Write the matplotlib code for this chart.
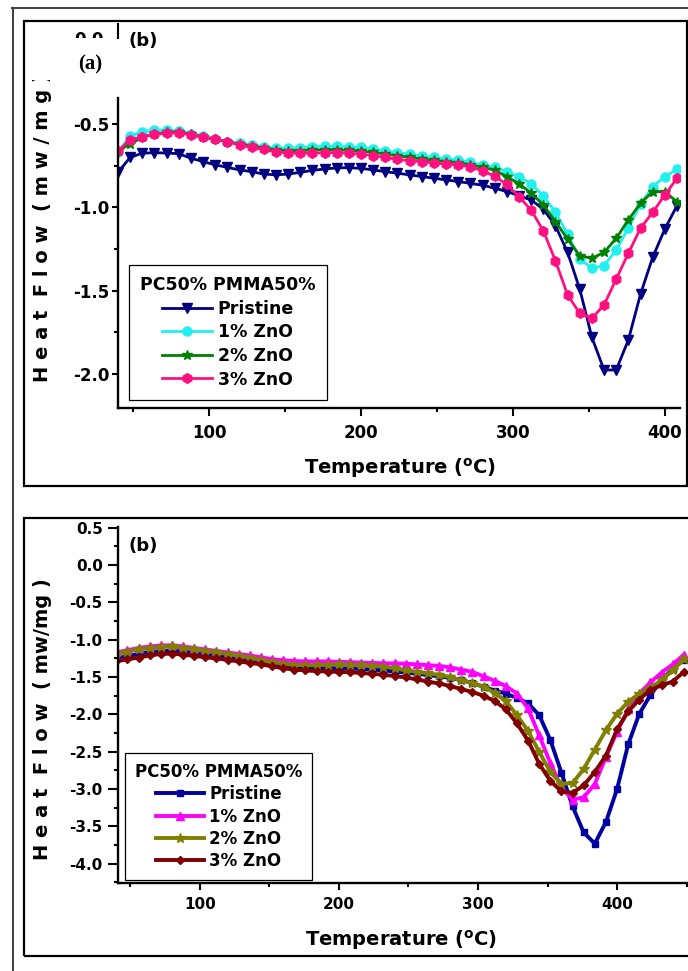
import matplotlib as mpl
import matplotlib.pyplot as plt
from matplotlib.patches import Rectangle
from matplotlib.lines import Line2D
from matplotlib.ticker import MultipleLocator
from matplotlib.transforms import Bbox, TransformedBbox

mpl.rcParams["font.family"] = "DejaVu Sans"
mpl.rcParams["font.weight"] = "bold"
mpl.rcParams["mathtext.default"] = "regular"
mpl.rcParams["axes.unicode_minus"] = False

W, H = 688, 971

# ---- panel (a) data: DSC curves, PC50/PMMA50 ----
temp_a = [40, 48, 56, 64, 72, 80, 88, 96, 104, 112, 120, 128, 136, 144, 152, 160,
          168, 176, 184, 192, 200, 208, 216, 224, 232, 240, 248, 256, 264, 272, 280,
          288, 296, 304, 312, 320, 328, 336, 344, 352, 360, 368, 376, 384, 392, 400, 408]
pristine_a = [-0.79, -0.70, -0.675, -0.672, -0.674, -0.678, -0.705, -0.725, -0.745, -0.76,
              -0.775, -0.786, -0.80, -0.805, -0.80, -0.79, -0.778, -0.77, -0.763, -0.762,
              -0.766, -0.775, -0.786, -0.795, -0.805, -0.815, -0.825, -0.835, -0.845, -0.856,
              -0.867, -0.885, -0.905, -0.93, -0.956, -1.01, -1.11, -1.27, -1.49, -1.78,
              -1.975, -1.975, -1.795, -1.52, -1.30, -1.13, -0.99]
zno1_a = [-0.67, -0.57, -0.548, -0.535, -0.537, -0.542, -0.558, -0.572, -0.59, -0.606,
          -0.616, -0.626, -0.636, -0.645, -0.645, -0.642, -0.636, -0.634, -0.634, -0.637,
          -0.64, -0.65, -0.66, -0.672, -0.68, -0.692, -0.70, -0.71, -0.715, -0.73,
          -0.746, -0.76, -0.786, -0.816, -0.858, -0.93, -1.03, -1.16, -1.31, -1.365,
          -1.35, -1.255, -1.125, -0.98, -0.875, -0.816, -0.772]
zno2_a = [-0.66, -0.62, -0.58, -0.56, -0.55, -0.548, -0.562, -0.576, -0.592, -0.606,
          -0.62, -0.632, -0.644, -0.655, -0.66, -0.66, -0.656, -0.654, -0.655, -0.658,
          -0.662, -0.67, -0.68, -0.69, -0.70, -0.71, -0.718, -0.725, -0.732, -0.745,
          -0.76, -0.776, -0.816, -0.858, -0.914, -0.985, -1.085, -1.19, -1.29, -1.305,
          -1.27, -1.185, -1.075, -0.975, -0.906, -0.906, -0.966]
zno3_a = [-0.66, -0.596, -0.576, -0.562, -0.556, -0.552, -0.566, -0.58, -0.592, -0.606,
          -0.626, -0.64, -0.652, -0.668, -0.674, -0.676, -0.675, -0.672, -0.672, -0.676,
          -0.68, -0.69, -0.70, -0.712, -0.72, -0.726, -0.734, -0.74, -0.746, -0.756,
          -0.78, -0.814, -0.862, -0.936, -1.016, -1.14, -1.32, -1.525, -1.635, -1.665,
          -1.585, -1.43, -1.275, -1.125, -1.03, -0.926, -0.826]

# ---- panel (b) data ----
temp_b = [40, 48, 56, 64, 72, 80, 88, 96, 104, 112, 120, 128, 136, 144, 152, 160,
          168, 176, 184, 192, 200, 208, 216, 224, 232, 240, 248, 256, 264, 272, 280,
          288, 296, 304, 312, 320, 328, 336, 344, 352, 360, 368, 376, 384, 392, 400,
          408, 416, 424, 432, 440, 448]
pristine_b = [-1.25, -1.22, -1.19, -1.165, -1.15, -1.145, -1.155, -1.17, -1.19, -1.21,
              -1.23, -1.25, -1.275, -1.30, -1.33, -1.35, -1.365, -1.375, -1.38, -1.38,
              -1.38, -1.385, -1.39, -1.40, -1.41, -1.425, -1.44, -1.455, -1.47, -1.49,
              -1.51, -1.54, -1.58, -1.63, -1.68, -1.72, -1.78, -1.85, -2.01, -2.34,
              -2.78, -3.23, -3.58, -3.73, -3.44, -3.00, -2.40, -1.99, -1.74, -1.54,
              -1.39, -1.27]
zno1_b = [-1.17, -1.14, -1.11, -1.09, -1.075, -1.075, -1.09, -1.11, -1.13, -1.15,
          -1.17, -1.19, -1.21, -1.235, -1.26, -1.275, -1.285, -1.29, -1.29, -1.29,
          -1.295, -1.30, -1.305, -1.31, -1.315, -1.316, -1.32, -1.33, -1.34, -1.35,
          -1.37, -1.40, -1.43, -1.49, -1.55, -1.62, -1.72, -1.92, -2.28, -2.65,
          -2.98, -3.14, -3.11, -2.93, -2.57, -2.23, -1.93, -1.72, -1.57, -1.44,
          -1.33, -1.20]
zno2_b = [-1.19, -1.16, -1.13, -1.11, -1.095, -1.09, -1.11, -1.13, -1.15, -1.17,
          -1.19, -1.215, -1.24, -1.27, -1.30, -1.32, -1.335, -1.34, -1.34, -1.335,
          -1.33, -1.335, -1.34, -1.35, -1.36, -1.38, -1.41, -1.43, -1.45, -1.47,
          -1.50, -1.54, -1.58, -1.63, -1.71, -1.82, -2.01, -2.22, -2.50, -2.77,
          -2.93, -2.92, -2.73, -2.47, -2.21, -1.99, -1.83, -1.72, -1.64, -1.54,
          -1.41, -1.26]
zno3_b = [-1.29, -1.26, -1.24, -1.21, -1.19, -1.185, -1.20, -1.215, -1.235, -1.25,
          -1.27, -1.29, -1.31, -1.33, -1.355, -1.38, -1.40, -1.41, -1.42, -1.425,
          -1.43, -1.435, -1.445, -1.455, -1.47, -1.485, -1.505, -1.53, -1.56, -1.585,
          -1.62, -1.66, -1.70, -1.75, -1.82, -1.93, -2.12, -2.35, -2.66, -2.89,
          -3.03, -3.05, -2.95, -2.77, -2.55, -2.20, -1.96, -1.80, -1.67, -1.61,
          -1.56, -1.43]

labels = ["Pristine", "1% ZnO", "2% ZnO", "3% ZnO"]
legend_title = "PC50% PMMA50%"
xlabel = "Temperature ($^{o}$C)"


def fx(x):
    return x / W


def fy(y):
    return 1 - y / H


def style_axes(ax, xlim, ylim, size, ylen, ypad, xlen, xpad):
    ax.set_xlim(*xlim)
    ax.set_ylim(*ylim)
    for s in ("top", "right"):
        ax.spines[s].set_visible(False)
    for s in ("left", "bottom"):
        ax.spines[s].set_linewidth(1.7)
    ax.xaxis.set_major_locator(MultipleLocator(100))
    ax.xaxis.set_minor_locator(MultipleLocator(50))
    ax.yaxis.set_major_locator(MultipleLocator(0.5))
    ax.yaxis.set_minor_locator(MultipleLocator(0.25))
    ax.tick_params(which="both", direction="out", width=1.5, labelsize=size)
    ax.tick_params(axis="y", which="major", length=ylen, pad=ypad)
    ax.tick_params(axis="x", which="major", length=xlen, pad=xpad)
    ax.tick_params(which="minor", length=3)
    ax.patch.set_alpha(0)


def add_legend(ax, x0, y0, size, spacing, pad):
    leg = ax.legend(labels, title=legend_title, loc="upper left",
                    bbox_to_anchor=(fx(x0), fy(y0)), bbox_transform=fig.transFigure,
                    borderaxespad=0, fontsize=size, title_fontsize=size,
                    fancybox=False, edgecolor="black", framealpha=1,
                    handlelength=2.9, handletextpad=0.3, labelspacing=spacing,
                    borderpad=pad)
    leg.get_frame().set_linewidth(0.9)
    leg.get_title().set_fontweight("bold")
    return leg


fig = plt.figure(figsize=(W / 100, H / 100), dpi=100)

# outer frame and panel boxes
fig.add_artist(Line2D([fx(12), fx(688)], [fy(8), fy(8)], transform=fig.transFigure,
                      color="#444444", lw=1.5))
fig.add_artist(Line2D([fx(12.5), fx(12.5)], [fy(8), fy(971)], transform=fig.transFigure,
                      color="#444444", lw=1.5))
fig.add_artist(Rectangle((fx(24), fy(486)), fx(687) - fx(24), fy(21) - fy(486),
                         transform=fig.transFigure, fill=False, lw=1.6, ec="black"))
fig.add_artist(Rectangle((fx(24), fy(956)), fx(720) - fx(24), fy(518) - fy(956),
                         transform=fig.transFigure, fill=False, lw=1.6, ec="black"))

# ---- panel (a) ----
ax_a = fig.add_axes([fx(118), fy(408), fx(680) - fx(118), fy(98) - fy(408)])
ax_a.plot(temp_a, pristine_a, color="#000080", marker="v", ms=6.5, lw=2)
ax_a.plot(temp_a, zno1_a, color="#22F0F0", marker="o", ms=6.5, lw=2)
ax_a.plot(temp_a, zno2_a, color="#008000", marker="*", ms=7.5, lw=2)
ax_a.plot(temp_a, zno3_a, color="#FF1080", marker="h", ms=7, lw=2)
style_axes(ax_a, (40, 410), (-2.203, -0.344), 12, 4.5, 1.5, 5.5, 6)
add_legend(ax_a, 129, 265, 12.5, 0.32, 0.65)

fig.text(fx(400), fy(468), xlabel, ha="center", va="center", fontsize=14)
ylab_a = fig.text(fx(43), fy(228), "H e a t  F l o w  ( m w / m g )", rotation=90,
                  ha="center", va="center", fontsize=14)
ylab_a.set_clip_box(TransformedBbox(Bbox([[0, 0], [1, fy(80)]]), fig.transFigure))
ylab_a.set_clip_on(True)

# overlapped scrap of the panel above: clipped tick label, spine stub, labels
t00 = fig.text(fx(89), fy(31), "0.0", ha="center", va="top", fontsize=12)
t00.set_clip_box(TransformedBbox(Bbox([[0, fy(38)], [1, 1]]), fig.transFigure))
t00.set_clip_on(True)
fig.add_artist(Line2D([fx(118), fx(118)], [fy(24), fy(38)], transform=fig.transFigure,
                      color="black", lw=1.5))
fig.text(fx(143), fy(41), "(b)", ha="center", va="center", fontsize=13)
fig.text(fx(90), fy(64), "(a)", ha="center", va="center", fontsize=15,
         family="Liberation Serif", weight="bold")

# ---- panel (b) ----
ax_b = fig.add_axes([fx(118), fy(883), fx(688) - fx(118), fy(527) - fy(883)])
ax_b.plot(temp_b, pristine_b, color="#0000A0", marker="s", ms=5, lw=2.8)
ax_b.plot(temp_b, zno1_b, color="#FF00FF", marker="^", ms=6, lw=2.8)
ax_b.plot(temp_b, zno2_b, color="#808000", marker="*", ms=7, lw=2.8)
ax_b.plot(temp_b, zno3_b, color="#800000", marker="D", ms=4.5, lw=2.8)
style_axes(ax_b, (41.2, 451), (-4.257, 0.51), 11, 7, 4, 5, 5)
add_legend(ax_b, 125, 753, 12, 0.26, 0.6)

fig.text(fx(143), fy(546), "(b)", ha="center", va="center", fontsize=13)
fig.text(fx(401), fy(940), xlabel, ha="center", va="center", fontsize=14)
fig.text(fx(43), fy(719), "H e a t  F l o w  ( mw/mg )", rotation=90,
         ha="center", va="center", fontsize=14)

fig.savefig("out.png", dpi=100)
